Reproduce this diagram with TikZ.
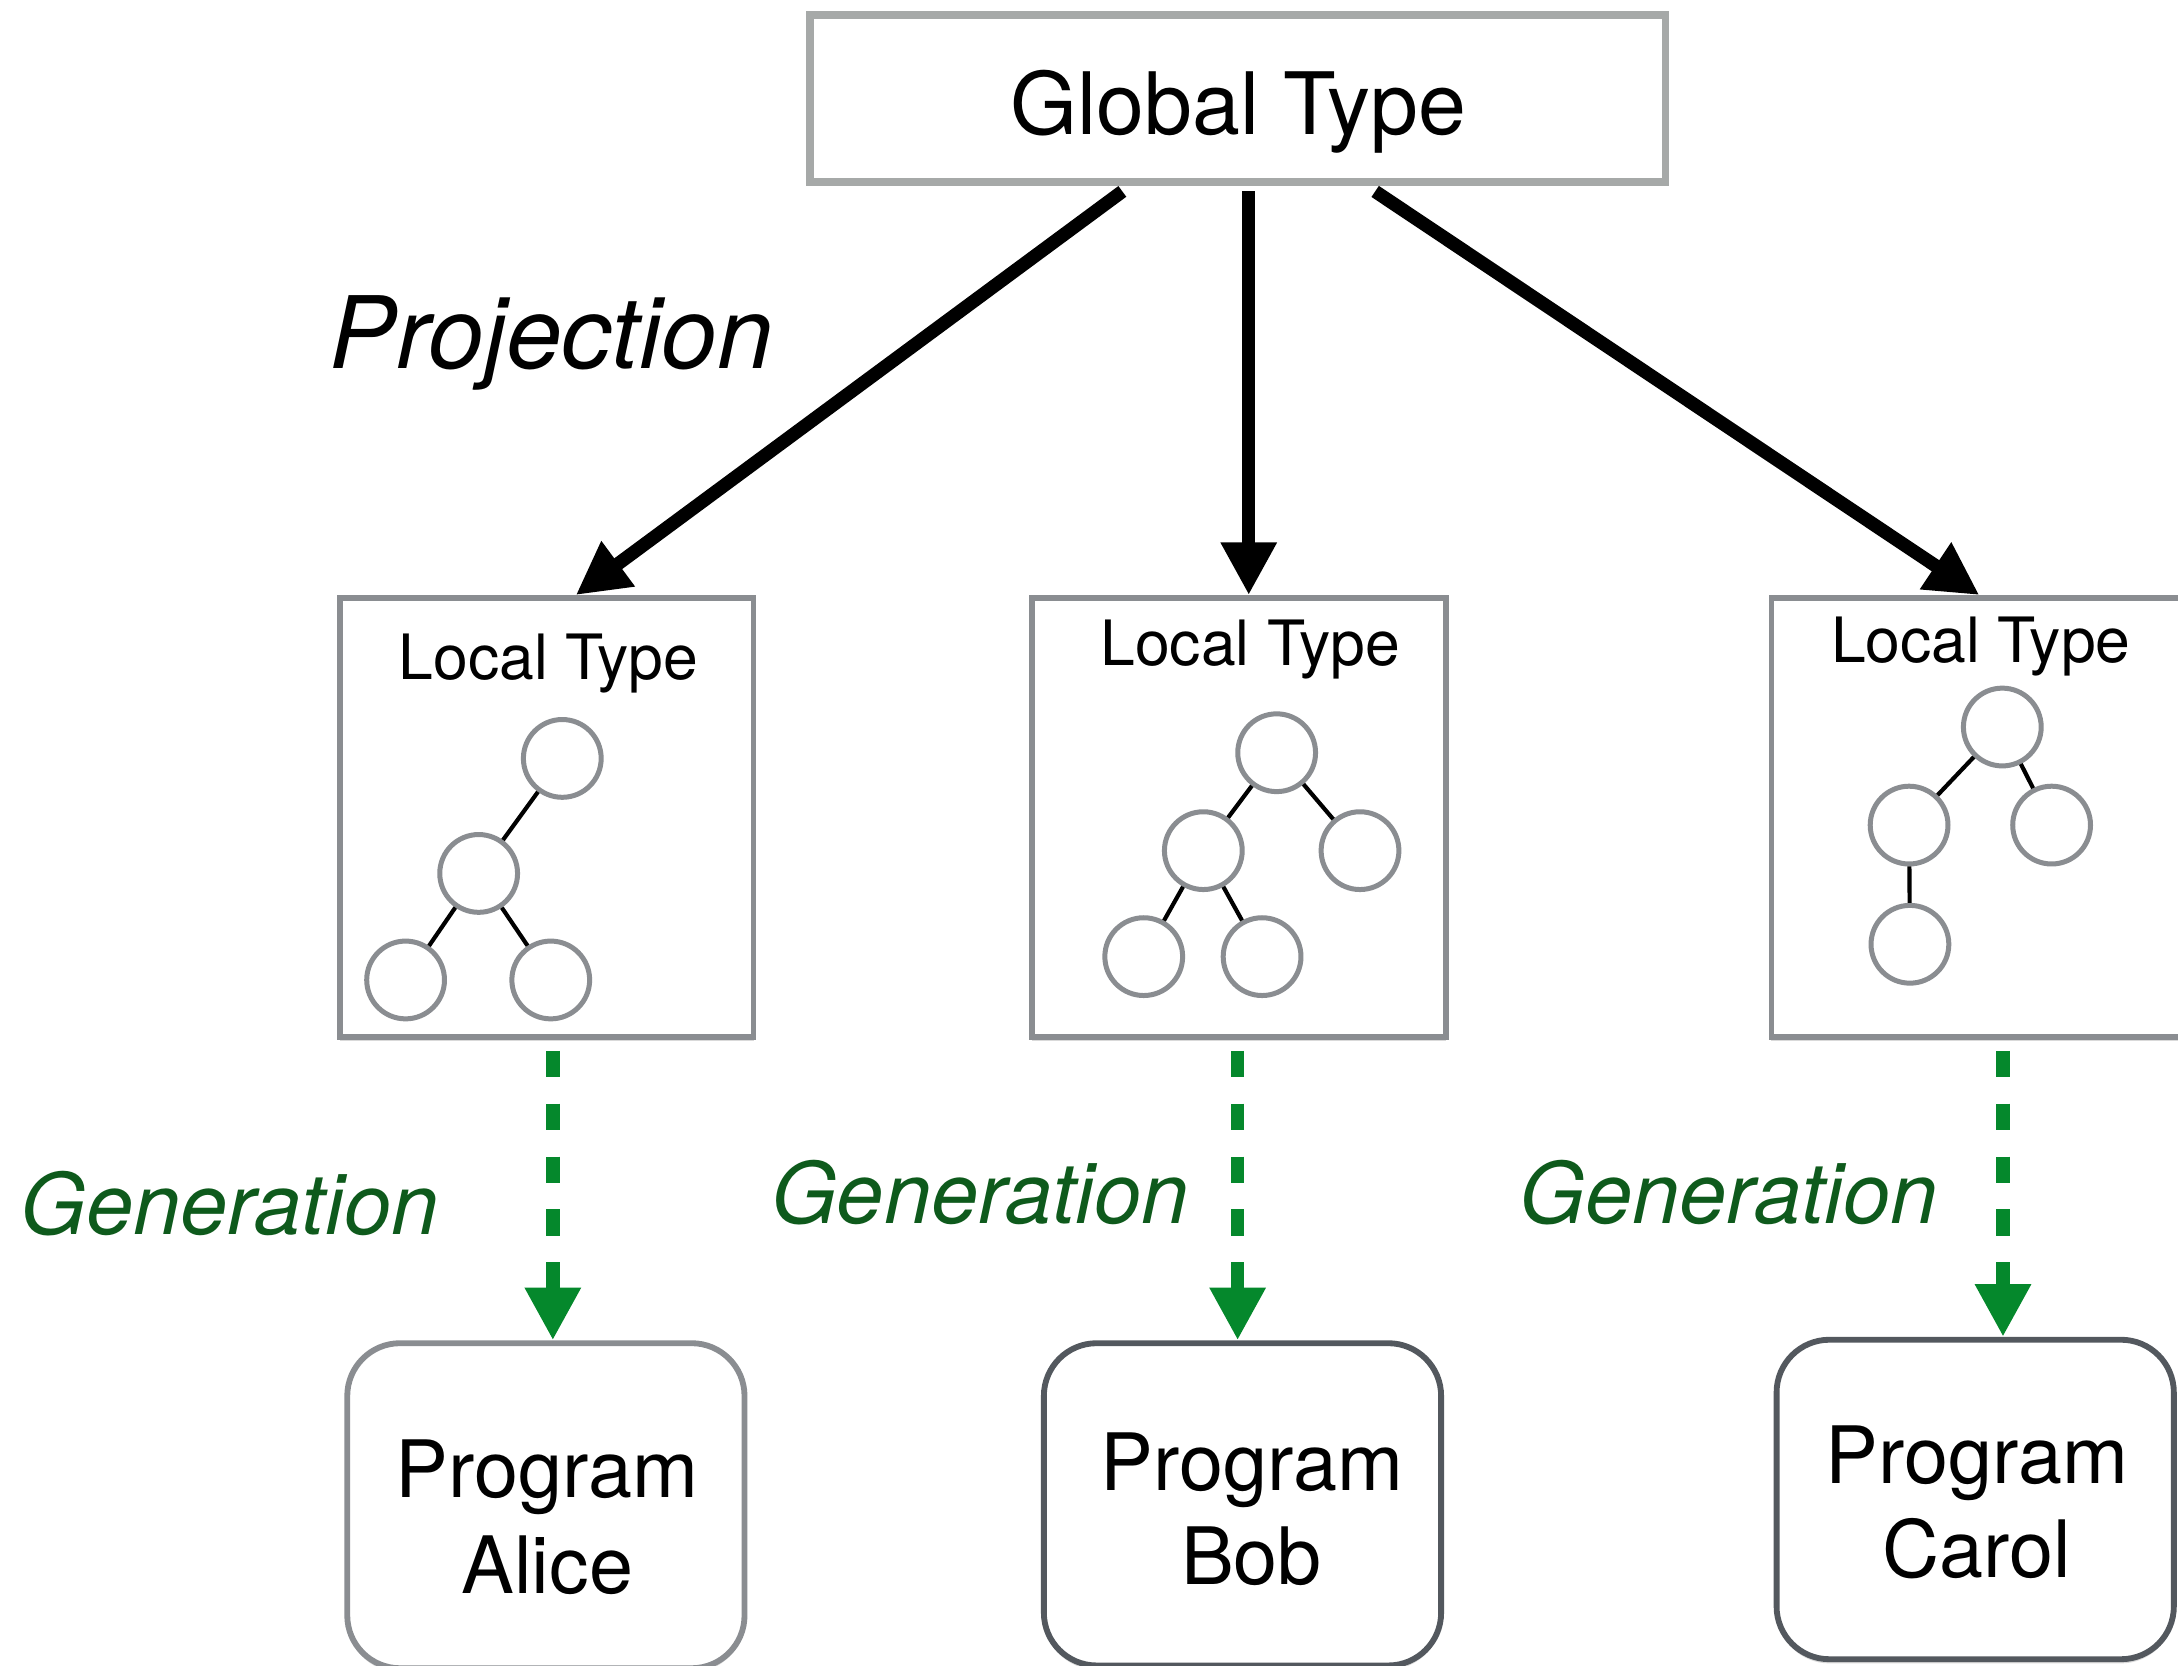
\documentclass[tikz,border=0pt]{standalone}
\usepackage{fontspec}
\setmainfont{TeX Gyre Heros}
\usetikzlibrary{arrows.meta,shadows}
\definecolor{boxgray}{HTML}{8A8D91}
\definecolor{globgray}{HTML}{A6A9A8}
\definecolor{darkbox}{HTML}{53585E}
\definecolor{arrgreen}{HTML}{05882C}
\definecolor{txtgreen}{HTML}{0E5A1C}
\begin{document}
\begin{tikzpicture}[x=0.5pt,y=-0.5pt,
  softshadow/.style={drop shadow={shadow xshift=0pt,shadow yshift=-1.5pt,opacity=0.15,fill=black}},
  globalbox/.style={draw=globgray,line width=2.8pt,fill=white,minimum width=308pt,minimum height=60pt,inner sep=0pt,softshadow},
  localbox/.style={draw=boxgray,line width=2.1pt,fill=white,minimum width=149pt,minimum height=158pt,inner sep=0pt,softshadow},
  progbox/.style={draw=#1,line width=2.1pt,fill=white,rounded corners=19pt,minimum width=143pt,inner sep=0pt,softshadow},
  tnode/.style={circle,draw=boxgray,line width=1.8pt,fill=white,minimum size=28pt,inner sep=0pt},
  tedge/.style={line width=1.5pt,black},
  projarrow/.style={line width=4.8pt,-{Triangle[length=19pt,width=19pt]}},
  genarrow/.style={arrgreen,line width=4.9pt,dash pattern=on 9.5pt off 9.5pt,-{Triangle[length=19pt,width=19pt]}},
  gtxt/.style={anchor=base,inner sep=0pt,font=\fontsize{31}{36}\selectfont},
  ltxt/.style={anchor=base,inner sep=0pt,font=\fontsize{22.5}{27}\selectfont},
  ptxt/.style={anchor=base,inner sep=0pt,font=\fontsize{28.5}{34}\selectfont},
  projtxt/.style={anchor=base,inner sep=0pt,font=\fontsize{36}{42}\selectfont\itshape},
  gentxt/.style={anchor=base,inner sep=0pt,text=txtgreen,font=\fontsize{30.5}{36}\selectfont\itshape}
]
\useasboundingbox (0,0) rectangle (1568,1199);
\clip (0,0) rectangle (1568,1199);
\fill[white] (0,0) rectangle (1568,1199);

% Global type
\node[globalbox] (global) at (891,71) {};
\node[gtxt] (globaltxt) at (891.5,97) {Global Type};

% Local type boxes
\node[localbox] (local1) at (393.5,588.5) {};
\node[localbox] (local2) at (892,588.5) {};
\node[localbox] (local3) at (1424.3,588.5) {};
\node[ltxt] (l1txt) at (395,489) {Local Type};
\node[ltxt] (l2txt) at (900,479) {Local Type};
\node[ltxt] (l3txt) at (1426,477) {Local Type};

% Tree 1
\node[tnode] (a1) at (404.8,546) {};
\node[tnode] (a2) at (344.6,628.8) {};
\node[tnode] (a3) at (292,705.5) {};
\node[tnode] (a4) at (396.5,705.5) {};
\draw[tedge] (a1) -- (a2);
\draw[tedge] (a2) -- (a3);
\draw[tedge] (a2) -- (a4);

% Tree 2
\node[tnode] (b1) at (919.1,541.9) {};
\node[tnode] (b2) at (866.3,612.4) {};
\node[tnode] (b3) at (979.1,612.4) {};
\node[tnode] (b4) at (823.4,688.7) {};
\node[tnode] (b5) at (908.6,688.7) {};
\draw[tedge] (b1) -- (b2);
\draw[tedge] (b1) -- (b3);
\draw[tedge] (b2) -- (b4);
\draw[tedge] (b2) -- (b5);

% Tree 3
\node[tnode] (c1) at (1441.5,523.4) {};
\node[tnode] (c2) at (1374.4,594) {};
\node[tnode] (c3) at (1477,594) {};
\node[tnode] (c4) at (1375,679.8) {};
\draw[tedge] (c1) -- (c2);
\draw[tedge] (c1) -- (c3);
\draw[tedge] (c2) -- (c4);

% Program boxes
\node[progbox=boxgray,minimum height=117pt] (alice) at (393,1084) {};
\node[progbox=darkbox,minimum height=116pt] (bob) at (894.5,1083) {};
\node[progbox=darkbox,minimum height=115pt] (carol) at (1422,1079.5) {};
\node[ptxt] (alicetxt1) at (393.5,1078) {Program};
\node[ptxt] (alicetxt2) at (394,1147) {Alice};
\node[ptxt] (bobtxt1) at (901.5,1073) {Program};
\node[ptxt] (bobtxt2) at (901,1141) {Bob};
\node[ptxt] (caroltxt1) at (1423.5,1068) {Program};
\node[ptxt] (caroltxt2) at (1423,1136) {Carol};

% Projection arrows
\draw[projarrow] ([xshift=-41.5pt,yshift=-2pt]global.south) -- ([xshift=10.5pt]local1.north);
\draw[projarrow] ([xshift=4pt,yshift=-2pt]global.south) -- ([xshift=3.5pt]local2.north);
\draw[projarrow] ([xshift=49.5pt,yshift=-2pt]global.south) -- ([xshift=0.35pt]local3.north);
\node[projtxt] (projlabel) at (397,265) {Projection};

% Generation arrows
\draw[genarrow] ([xshift=2.25pt,yshift=-4pt]local1.south) -- ([xshift=2.5pt]alice.north);
\draw[genarrow] ([xshift=-0.5pt,yshift=-4pt]local2.south) -- ([xshift=-1.75pt]bob.north);
\draw[genarrow] ([xshift=8.85pt,yshift=-4pt]local3.south) -- ([xshift=10pt]carol.north);
\node[gentxt] (gen1) at (165,889) {Generation};
\node[gentxt] (gen2) at (705.5,881) {Generation};
\node[gentxt] (gen3) at (1244.5,881) {Generation};
\end{tikzpicture}
\end{document}
